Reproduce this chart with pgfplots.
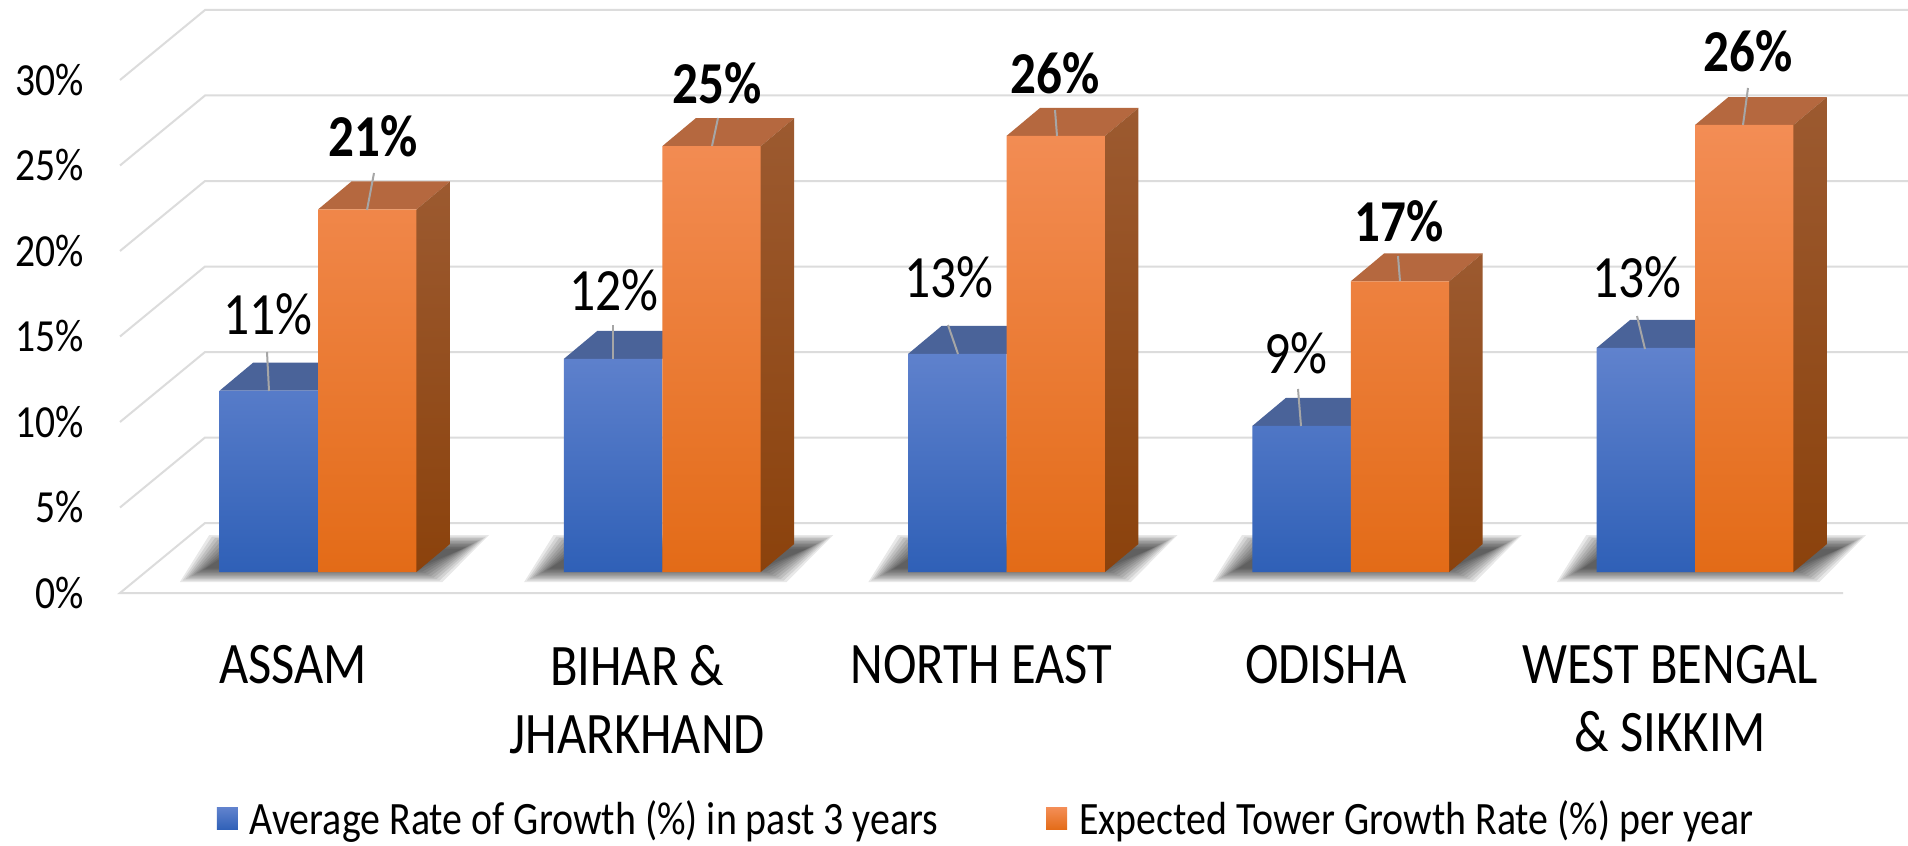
\documentclass[border=0pt]{standalone}
\usepackage{fontspec}
\setmainfont[FakeStretch=0.86]{Carlito}
\usepackage{pgfplots}
\pgfplotsset{compat=1.18}
\definecolor{gridc}{HTML}{DCDCDC}
\definecolor{leadc}{HTML}{A6A6A6}
\definecolor{btop}{HTML}{4A6399}
\definecolor{otop}{HTML}{B5683F}
\definecolor{oside1}{HTML}{9C5A30}
\definecolor{oside2}{HTML}{8B420C}
\newcommand\PT[2]{(axis cs:{(#1-318)/344.25},{(572-#2)/17.1})}
\newcommand\Lead[4]{\draw[leadc,line width=1pt] \PT{#1}{#2} -- \PT{#3}{#4};}
\newcommand\LabR[3]{\node[inner sep=0,font=\fontsize{30}{32}\selectfont] at \PT{#1}{#2} {#3};}
\newcommand\LabB[3]{\node[inner sep=0,font=\fontsize{29.7}{32}\selectfont\bfseries] at \PT{#1}{#2} {#3};}
\newcommand\TopFace[4]{\fill[#1] (axis cs:#2,#4) -- (axis cs:#3,#4) -- (axis cs:{#3+0.0973},{#4+1.637}) -- (axis cs:{#2+0.0973},{#4+1.637}) -- cycle;}
\newcommand\SideFace[2]{\shade[top color=oside1,bottom color=oside2] (axis cs:#1,0) -- (axis cs:#1,#2) -- (axis cs:{#1+0.0973},{#2+1.637}) -- (axis cs:{#1+0.0973},1.637) -- cycle;}
% one layer of the soft shadow: #1 group, #2 growth in px
\newcommand\ShLayer[2]{\fill[black,fill opacity=0.09]
  (axis cs:{#1-0.335-1.9*#2/344.25},{0.117-#2/17.1}) -- (axis cs:{#1+0.295+1.9*#2/344.25},{0.117-#2/17.1}) -- (axis cs:{#1+0.43+1.9*#2/344.25},{1.45+#2/17.1}) -- (axis cs:{#1-0.25-1.9*#2/344.25},{1.45+#2/17.1}) -- cycle;}
\newcommand\Shadow[1]{\ShLayer{#1}{12}\ShLayer{#1}{10.5}\ShLayer{#1}{9}\ShLayer{#1}{7.5}\ShLayer{#1}{6}\ShLayer{#1}{4.5}\ShLayer{#1}{3}\ShLayer{#1}{1.5}\ShLayer{#1}{0}\ShLayer{#1}{-1.5}}
\begin{document}
\begin{tikzpicture}[x=1pt,y=1pt]
\path[use as bounding box,fill=white] (-60,-126.5) rectangle (894,296.5);
\begin{axis}[
  scale only axis,
  width=894pt,height=296.5pt,
  xmin=-0.5752,xmax=4.6187,ymin=-1.228,ymax=33.45,
  clip=false,
  axis line style={draw=none},
  tick style={draw=none},
  major tick length=0pt,
  xtick={-0.0726,0.9274,1.9274,2.9274,3.9274},
  xticklabels={ASSAM,{BIHAR \&\\JHARKHAND},NORTH EAST,ODISHA,{WEST BENGAL\\\& SIKKIM}},
  xticklabel style={align=center,inner sep=0pt,yshift=-26pt,font=\fontsize{29.4}{34}\selectfont},
  ytick={-1.228,3.772,8.772,13.772,18.772,23.772,28.772},
  yticklabels={0\%,5\%,10\%,15\%,20\%,25\%,30\%},
  yticklabel style={anchor=east,inner sep=0pt,xshift=-18pt,font=\fontsize{23}{24}\selectfont},
  legend style={at={(0.054,-0.381)},anchor=west,draw=none,fill=none,inner sep=0pt,
    legend columns=2,font=\fontsize{23.2}{24}\selectfont,
    /tikz/every even column/.style={column sep=52pt}},
  legend cell align=left,
]
% gridlines: front edge, back wall
\addplot[gridc,line width=1pt,forget plot] coordinates {(4.4300,-1.228)(-0.5752,-1.228)(-0.3282,2.865)(4.6187,2.865)};
\addplot[gridc,line width=1pt,forget plot] coordinates {(-0.5752,3.772)(-0.3282,7.865)(4.6187,7.865)};
\addplot[gridc,line width=1pt,forget plot] coordinates {(-0.5752,8.772)(-0.3282,12.865)(4.6187,12.865)};
\addplot[gridc,line width=1pt,forget plot] coordinates {(-0.5752,13.772)(-0.3282,17.865)(4.6187,17.865)};
\addplot[gridc,line width=1pt,forget plot] coordinates {(-0.5752,18.772)(-0.3282,22.865)(4.6187,22.865)};
\addplot[gridc,line width=1pt,forget plot] coordinates {(-0.5752,23.772)(-0.3282,27.865)(4.6187,27.865)};
\addplot[gridc,line width=1pt,forget plot] coordinates {(-0.5752,28.772)(-0.3282,32.865)(4.6187,32.865)};
% shadows
\Shadow{0}\Shadow{1}\Shadow{2}\Shadow{3}\Shadow{4}
% blue tops
\TopFace{btop}{-0.286}{0}{10.6}
\TopFace{btop}{0.714}{1}{12.46}
\TopFace{btop}{1.714}{2}{12.75}
\TopFace{btop}{2.714}{3}{8.54}
\TopFace{btop}{3.714}{4}{13.1}
\addplot[ybar,bar width=0.286,bar shift=-0.143,draw=none,
  top color={rgb,255:red,96;green,130;blue,205},middle color={rgb,255:red,62;green,112;blue,204},bottom color={rgb,255:red,47;green,96;blue,183},
  legend image code/.code={\path[top color={rgb,255:red,96;green,130;blue,205},bottom color={rgb,255:red,47;green,96;blue,183}] (0pt,-5.5pt) rectangle (10.5pt,5.5pt);}]
  coordinates {(0,10.6)(1,12.46)(2,12.75)(3,8.54)(4,13.1)};
\addlegendentry{\hspace*{4pt}Average Rate of Growth (\%) in past 3 years}
% orange tops and sides
\TopFace{otop}{0}{0.286}{21.2}
\TopFace{otop}{1}{1.286}{24.9}
\TopFace{otop}{2}{2.286}{25.5}
\TopFace{otop}{3}{3.286}{17.0}
\TopFace{otop}{4}{4.286}{26.14}
\SideFace{0.286}{21.2}
\SideFace{1.286}{24.9}
\SideFace{2.286}{25.5}
\SideFace{3.286}{17.0}
\SideFace{4.286}{26.14}
\addplot[ybar,bar width=0.286,bar shift=0.143,draw=none,
  top color={rgb,255:red,243;green,141;blue,85},middle color={rgb,255:red,250;green,128;blue,44},bottom color={rgb,255:red,227;green,107;blue,23},
  legend image code/.code={\path[top color={rgb,255:red,243;green,141;blue,85},bottom color={rgb,255:red,227;green,107;blue,23}] (0pt,-5.5pt) rectangle (10.5pt,5.5pt);}]
  coordinates {(0,21.2)(1,24.9)(2,25.5)(3,17.0)(4,26.14)};
\addlegendentry{\hspace*{4pt}Expected Tower Growth Rate (\%) per year}
% leader lines
\Lead{269}{391}{267}{352}
\Lead{613}{359}{613}{325}
\Lead{958}{354}{948}{325}
\Lead{1301}{426}{1298}{389}
\Lead{1645}{349}{1637}{316}
\Lead{367}{210}{374}{173}
\Lead{712}{146}{718}{118}
\Lead{1057}{136}{1055}{110}
\Lead{1400}{281}{1398}{256}
\Lead{1743}{125}{1748}{88}
% data labels
\LabR{268}{314}{11\%}
\LabR{614}{290}{12\%}
\LabR{949}{277}{13\%}
\LabR{1296}{353}{9\%}
\LabR{1637}{277}{13\%}
\LabB{373}{136}{21\%}
\LabB{717}{83}{25\%}
\LabB{1055}{73}{26\%}
\LabB{1399}{221}{17\%}
\LabB{1748}{51}{26\%}
\end{axis}
\end{tikzpicture}
\end{document}
